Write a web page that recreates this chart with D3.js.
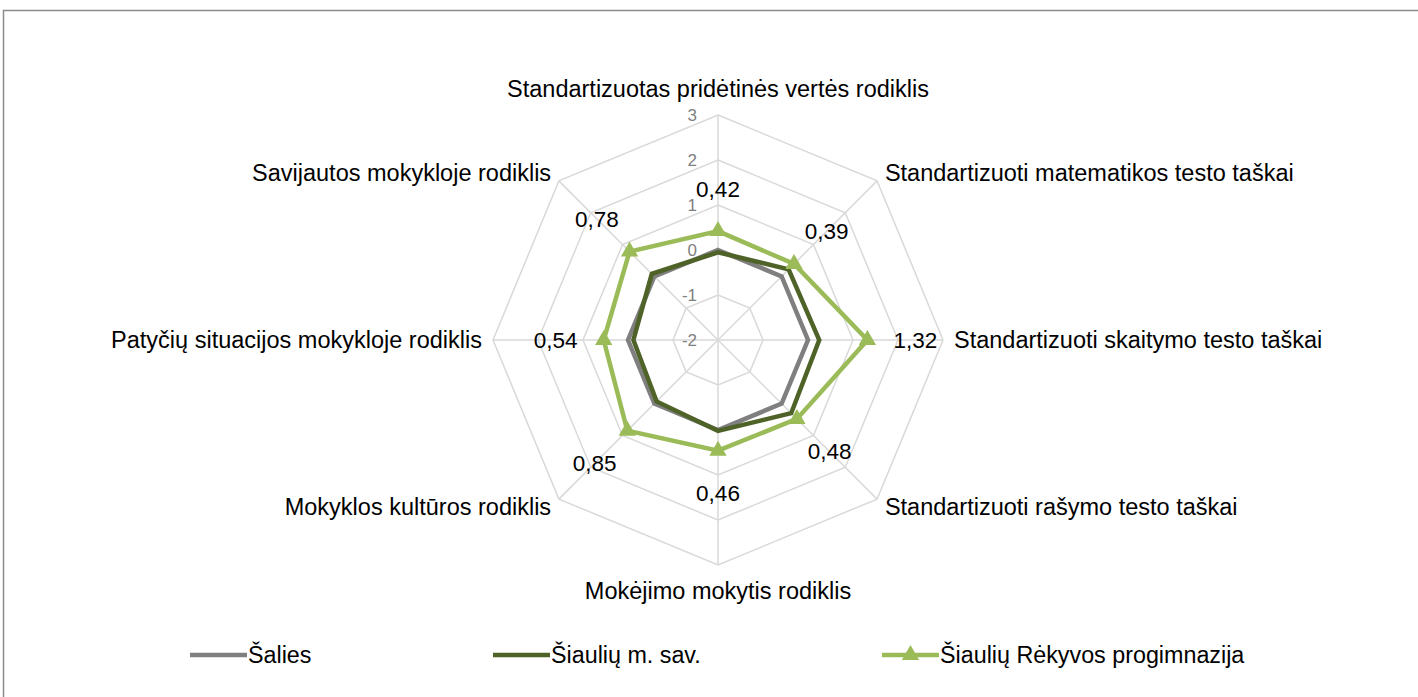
<!DOCTYPE html>
<html lang="lt">
<head>
	<meta charset="UTF-8">
	<title>Radar</title>
	<style>
		body { margin: 0; background: #fff; }
		.cat { font-family: "Liberation Sans", Arial, sans-serif; font-size: 23.5px; fill: #000; }
		.val { font-family: "Liberation Sans", Arial, sans-serif; font-size: 22.5px; fill: #000; }
		.tick { font-family: "Liberation Sans", Arial, sans-serif; font-size: 17px; fill: #7f7f7f; }
		.leg { font-family: "Liberation Sans", Arial, sans-serif; font-size: 23.3px; fill: #000; }
	</style>
	<script src="https://d3js.org/d3.v7.min.js"></script>
</head>
<body>
	<script>
		// axes, clockwise from the top
		var categories = [
			"Standartizuotas pridėtinės vertės rodiklis",
			"Standartizuoti matematikos testo taškai",
			"Standartizuoti skaitymo testo taškai",
			"Standartizuoti rašymo testo taškai",
			"Mokėjimo mokytis rodiklis",
			"Mokyklos kultūros rodiklis",
			"Patyčių situacijos mokykloje rodiklis",
			"Savijautos mokykloje rodiklis"
		];
		var salies = [0, 0, 0, 0, 0, 0, 0, 0];
		var siauliuSav = [-0.05, 0.22, 0.25, 0.3, 0.02, -0.07, -0.12, 0.08];
		var rekyvos = [0.42, 0.39, 1.32, 0.48, 0.46, 0.85, 0.54, 0.78];
		var valueLabels = ["0,42", "0,39", "1,32", "0,48", "0,46", "0,85", "0,54", "0,78"];
		var ticks = [-2, -1, 0, 1, 2, 3];
		var seriesNames = ["Šalies", "Šiaulių m. sav.", "Šiaulių Rėkyvos progimnazija"];

		const w = 1418, h = 697;
		const cx = 718, cy = 340;

		const svg = d3.select("body").append("svg")
			.attr("width", w).attr("height", h);

		// outer frame
		svg.append("rect")
			.attr("x", 3.5).attr("y", 10.5)
			.attr("width", w + 10).attr("height", h + 10)
			.attr("fill", "none").attr("stroke", "#8c8c8c").attr("stroke-width", 1.5);

		const g = svg.append("g").attr("transform", "translate(" + cx + "," + cy + ")");

		var rScale = d3.scaleLinear().domain([-2, 3]).range([0, 225]);
		var angle = d3.scaleLinear().domain([0, categories.length]).range([0, 2 * Math.PI]);

		const px = (i, r) => r * Math.sin(angle(i));
		const py = (i, r) => -r * Math.cos(angle(i));

		// grid rings
		g.selectAll(".ring").data(ticks.slice(1)).enter()
			.append("polygon")
			.attr("points", t => categories.map((c, i) => px(i, rScale(t)) + "," + py(i, rScale(t))).join(" "))
			.attr("fill", "none").attr("stroke", "#d9d9d9").attr("stroke-width", 1.5);

		// spokes
		g.selectAll(".spoke").data(categories).enter()
			.append("line")
			.attr("x1", 0).attr("y1", 0)
			.attr("x2", (d, i) => px(i, rScale(3)))
			.attr("y2", (d, i) => py(i, rScale(3)))
			.attr("stroke", "#d9d9d9").attr("stroke-width", 1.5);

		// tick labels
		g.selectAll(".tick").data(ticks).enter()
			.append("text").attr("class", "tick")
			.attr("x", -21).attr("y", t => -rScale(t))
			.attr("dy", "0.35em")
			.attr("text-anchor", "end")
			.text(t => t);

		// category labels
		g.selectAll(".cat").data(categories).enter()
			.append("text").attr("class", "cat")
			.attr("x", (d, i) => px(i, (i % 4 === 0) ? 251 : 236))
			.attr("y", (d, i) => py(i, (i % 4 === 0) ? 251 : 236))
			.attr("dy", "0.35em")
			.attr("text-anchor", (d, i) => i % 4 === 0 ? "middle" : (i < 4 ? "start" : "end"))
			.text(d => d);

		var line = d3.lineRadial()
			.angle((d, i) => angle(i))
			.radius(d => rScale(d))
			.curve(d3.curveLinearClosed);

		var series = [
			{ name: seriesNames[0], values: salies, color: "#7f7f7f" },
			{ name: seriesNames[1], values: siauliuSav, color: "#4f6228" },
			{ name: seriesNames[2], values: rekyvos, color: "#9bbb59" }
		];

		g.selectAll(".series").data(series).enter()
			.append("path")
			.attr("d", s => line(s.values))
			.attr("fill", "none")
			.attr("stroke", s => s.color)
			.attr("stroke-width", 4.5)
			.attr("stroke-linejoin", "miter");

		var tri = d3.symbol().type(d3.symbolTriangle).size(130);

		g.selectAll(".marker").data(rekyvos).enter()
			.append("path")
			.attr("d", tri)
			.attr("transform", (d, i) => "translate(" + px(i, rScale(d)) + "," + py(i, rScale(d)) + ")")
			.attr("fill", "#9bbb59");

		// value labels for the school
		g.selectAll(".val").data(rekyvos).enter()
			.append("text").attr("class", "val")
			.attr("x", (d, i) => px(i, rScale(d) + 42 + 6 * Math.abs(Math.sin(angle(i)))))
			.attr("y", (d, i) => py(i, rScale(d) + 42 + 6 * Math.abs(Math.sin(angle(i)))))
			.attr("dy", "0.35em")
			.attr("text-anchor", "middle")
			.text((d, i) => valueLabels[i]);

		// legend
		var legX = [190, 493, 882];
		var legY = 655;
		var leg = svg.selectAll(".legend").data(series).enter()
			.append("g")
			.attr("transform", (d, i) => "translate(" + legX[i] + "," + legY + ")");

		leg.append("line")
			.attr("x1", 0).attr("x2", 57).attr("y1", 0).attr("y2", 0)
			.attr("stroke", d => d.color).attr("stroke-width", 4.5);

		leg.filter((d, i) => i === 2).append("path")
			.attr("d", tri)
			.attr("transform", "translate(28.5,0)")
			.attr("fill", "#9bbb59");

		leg.append("text").attr("class", "leg")
			.attr("x", 58).attr("dy", "0.35em")
			.text(d => d.name);
	</script>
</body>
</html>
